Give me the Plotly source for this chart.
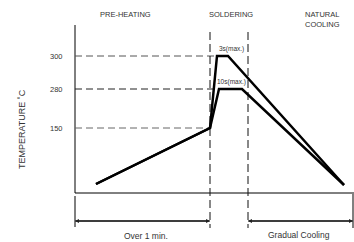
import plotly.graph_objects as go

# ---- data (schematic units: time t from chart origin, height level L above baseline) ----
temp_labels = ["150", "280", "300"]
temp_levels = [65, 104, 137]

profile_3s_t = [21, 135, 142, 153, 269]
profile_3s_L = [9, 65, 137, 137, 8]
profile_10s_t = [21, 135, 144, 167, 269]
profile_10s_L = [9, 65, 104, 104, 8]

zone_names = ["PRE-HEATING", "SOLDERING", "NATURAL<br>COOLING"]
zone_pos = [50, 156, 228]
zone_anchor = ["center", "center", "left"]
zone_bounds = [0, 135, 173, 278]   # origin, soldering start, cooling start, end

hold_labels = ["3s(max.)", "10s(max.)"]
hold_levels = [144, 111]

span_labels = ["Over 1 min.", "Gradual Cooling"]

# axis extents
T_MAX = 279
L_TOP = 168
FONT = "Liberation Sans, Arial, sans-serif"
TXT = "#333333"

fig = go.Figure()

def seg(x, y, color="black", width=1, dash=None):
    fig.add_trace(go.Scatter(x=x, y=y, mode="lines", hoverinfo="skip",
                             line=dict(color=color, width=width, dash=dash),
                             showlegend=False))

# axes
seg([0, 0], [L_TOP, 0], width=1)
seg([0, T_MAX], [0, 0], width=1)

# temperature guide lines (dashed)
guide_end = [zone_bounds[1], profile_10s_t[2], profile_3s_t[2]]
guide_col = ["#666666", "#222222", "#555555"]
for lvl, xe, c in zip(temp_levels, guide_end, guide_col):
    seg([0, xe], [lvl, lvl], color=c, width=1, dash="7px,4px")

# zone boundaries (dashed verticals)
for xb in zone_bounds[1:3]:
    seg([xb, xb], [161, -35], color="#111111", width=1, dash="8px,4px")

# span ticks below
seg([0, 0], [-3, -34], width=1)
seg([zone_bounds[3], zone_bounds[3]], [-1, -35], width=1)

# profiles
seg(profile_3s_t, profile_3s_L, width=2.5)
seg(profile_10s_t, profile_10s_L, width=2.5)

# span arrows
for x0, x1 in [(zone_bounds[0], zone_bounds[1]), (zone_bounds[2], zone_bounds[3])]:
    seg([x0, x1], [-28, -28], color="#222222", width=1)
    for a, b in [(x0, x1), (x1, x0)]:
        fig.add_annotation(x=a, y=-28, ax=b, ay=-28, xref="x", yref="y",
                           axref="x", ayref="y", text="", showarrow=True,
                           arrowhead=2, arrowsize=0.8, arrowwidth=1,
                           arrowcolor="#222222")

# texts
for name, px, anc in zip(zone_names, zone_pos, zone_anchor):
    fig.add_annotation(x=px, y=185, text=name, showarrow=False, yanchor="top",
                       xanchor=anc, align=anc,
                       font=dict(family=FONT, size=7.5, color=TXT))
for lab, lvl in zip(hold_labels, hold_levels):
    fig.add_annotation(x=156, y=lvl, text=lab, showarrow=False,
                       font=dict(family=FONT, size=6.5, color=TXT))
for lab, lvl in zip(temp_labels, temp_levels):
    fig.add_annotation(x=-10, y=lvl, text=lab, showarrow=False, xanchor="right",
                       font=dict(family=FONT, size=7.5, color=TXT))
fig.add_annotation(x=-53, y=64, text="TEMPERATURE ˚C", textangle=-90,
                   showarrow=False, font=dict(family=FONT, size=9, color=TXT))
fig.add_annotation(x=71, y=-43, text=span_labels[0], showarrow=False,
                   font=dict(family=FONT, size=8.5, color=TXT))
fig.add_annotation(x=224, y=-42, text=span_labels[1], showarrow=False,
                   font=dict(family=FONT, size=8.5, color=TXT))

fig.update_layout(
    width=354, height=242,
    margin=dict(l=0, r=0, t=0, b=0),
    paper_bgcolor="white", plot_bgcolor="white",
    xaxis=dict(range=[-75, 279], visible=False, fixedrange=True),
    yaxis=dict(range=[-49, 193], visible=False, fixedrange=True),
    showlegend=False,
)

fig.write_html("out.html", config={"displayModeBar": False},
               post_script="document.body.style.margin='0';document.body.style.padding='0';")
